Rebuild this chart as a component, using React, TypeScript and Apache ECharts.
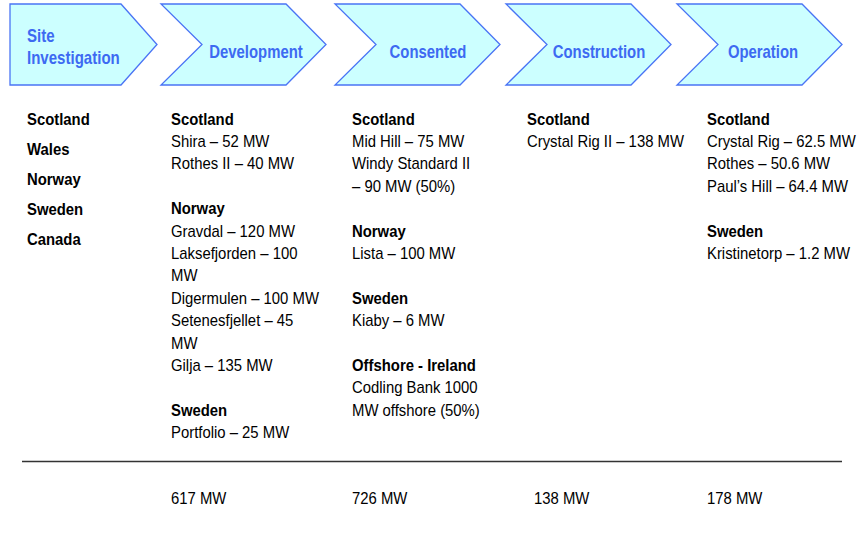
import React, { useEffect, useRef } from "react";
import * as echarts from "echarts";

// ---- data ----
const stages = ["Site\nInvestigation", "Development", "Consented", "Construction", "Operation"];
const siteCountries = ["Scotland", "Wales", "Norway", "Sweden", "Canada"];

type Group = { country: string; projects: string[] };

const developmentGroups: Group[] = [
  { country: "Scotland", projects: ["Shira – 52 MW", "Rothes II – 40 MW"] },
  {
    country: "Norway",
    projects: ["Gravdal – 120 MW", "Laksefjorden – 100", "MW", "Digermulen – 100 MW", "Setenesfjellet – 45", "MW", "Gilja – 135 MW"],
  },
  { country: "Sweden", projects: ["Portfolio – 25 MW"] },
];
const consentedGroups: Group[] = [
  { country: "Scotland", projects: ["Mid Hill – 75 MW", "Windy Standard II", "– 90 MW (50%)"] },
  { country: "Norway", projects: ["Lista – 100 MW"] },
  { country: "Sweden", projects: ["Kiaby – 6 MW"] },
  { country: "Offshore - Ireland", projects: ["Codling Bank 1000", "MW offshore (50%)"] },
];
const constructionGroups: Group[] = [{ country: "Scotland", projects: ["Crystal Rig II – 138 MW"] }];
const operationGroups: Group[] = [
  { country: "Scotland", projects: ["Crystal Rig – 62.5 MW", "Rothes – 50.6 MW", "Paul’s Hill – 64.4 MW"] },
  { country: "Sweden", projects: ["Kristinetorp – 1.2 MW"] },
];
const stageGroups: Group[][] = [developmentGroups, consentedGroups, constructionGroups, operationGroups];
const totals = ["617 MW", "726 MW", "138 MW", "178 MW"];

// ---- layout ----
const FONT = "'Liberation Sans', Arial, sans-serif";
const BLUE = "#3D6AF2";
const chevronLefts = [10, 161, 335, 506, 677];
const labelCenters = [0, 256, 428, 599, 763];
const columnX = [171, 352, 527, 707];
const totalX = [171, 352, 534, 707];
const TOP = 4;
const BOTTOM = 85;
const MID = 44.5;
const FIRST_LINE_Y = 119;
const LINE_H = 22.4;
const SX = 0.93;

function buildGraphics() {
  const els: any[] = [];
  // chevrons
  chevronLefts.forEach((L, i) => {
    const pts =
      i === 0
        ? [[L, TOP], [121, TOP], [157, MID], [121, BOTTOM], [L, BOTTOM]]
        : [[L, TOP], [L + 125, TOP], [L + 165, MID], [L + 125, BOTTOM], [L, BOTTOM], [L + 41, MID]];
    els.push({
      type: "polygon",
      shape: { points: pts },
      style: { fill: "#CCFFFF", stroke: "#4A74F5", lineWidth: 1.3 },
    });
    const lines = stages[i].split("\n");
    if (i === 0) {
      lines.forEach((t, k) => {
        els.push({
          type: "text",
          x: 27,
          y: 35.5 + k * 22.5,
          scaleX: 0.86,
          style: { text: t, fill: BLUE, font: `bold 17.5px ${FONT}`, textAlign: "left", textVerticalAlign: "middle" },
        });
      });
    } else {
      els.push({
        type: "text",
        x: labelCenters[i],
        y: 52,
        scaleX: 0.85,
        style: { text: lines[0], fill: BLUE, font: `bold 17.5px ${FONT}`, textAlign: "center", textVerticalAlign: "middle" },
      });
    }
  });

  // site investigation countries
  siteCountries.forEach((c, k) => {
    els.push({
      type: "text",
      x: 27,
      y: FIRST_LINE_Y + k * 30.2,
      scaleX: SX,
      style: { text: c, fill: "#000", font: `bold 16px ${FONT}`, textAlign: "left", textVerticalAlign: "middle" },
    });
  });

  // stage columns
  stageGroups.forEach((groups, ci) => {
    let k = 0;
    groups.forEach((g) => {
      els.push({
        type: "text",
        x: columnX[ci],
        y: FIRST_LINE_Y + k * LINE_H,
        scaleX: SX,
        style: { text: g.country, fill: "#000", font: `bold 16px ${FONT}`, textAlign: "left", textVerticalAlign: "middle" },
      });
      k++;
      g.projects.forEach((p) => {
        els.push({
          type: "text",
          x: columnX[ci],
          y: FIRST_LINE_Y + k * LINE_H,
          scaleX: SX,
          style: { text: p, fill: "#000", font: `16px ${FONT}`, textAlign: "left", textVerticalAlign: "middle" },
        });
        k++;
      });
      k++; // blank line between groups
    });
  });

  // separator line
  els.push({
    type: "line",
    shape: { x1: 22, y1: 461.5, x2: 842, y2: 461.5 },
    style: { stroke: "#333", lineWidth: 1.5 },
  });

  // totals
  totals.forEach((t, i) => {
    els.push({
      type: "text",
      x: totalX[i],
      y: 498,
      scaleX: SX,
      style: { text: t, fill: "#000", font: `16px ${FONT}`, textAlign: "left", textVerticalAlign: "middle" },
    });
  });
  return els;
}

export default function App() {
  const ref = useRef<HTMLDivElement>(null);
  useEffect(() => {
    if (!ref.current) return;
    const chart = echarts.init(ref.current, undefined, { renderer: "svg" });
    chart.setOption({
      animation: false,
      backgroundColor: "#ffffff",
      graphic: { elements: buildGraphics() },
    });
    return () => chart.dispose();
  }, []);
  return (
    <div
      ref={ref}
      style={{ position: "fixed", left: 0, top: 0, width: 862, height: 546, background: "#fff" }}
    />
  );
}
